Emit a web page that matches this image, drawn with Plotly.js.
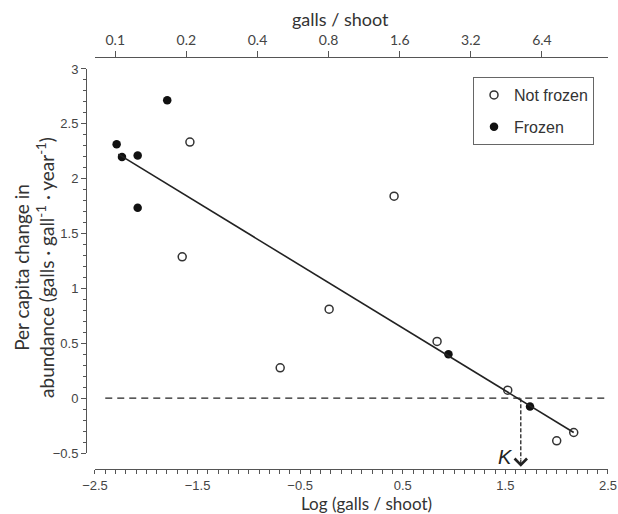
<!DOCTYPE html>
<html>
<head>
<meta charset="utf-8">
<script src="https://cdn.plot.ly/plotly-3.0.1.min.js"></script>
<style>
  html, body { margin: 0; padding: 0; background: #fff; }
  #chart { width: 618px; height: 514px; }
</style>
</head>
<body>
<div id="chart"></div>
<script>
// ---- data ----
const notFrozenX = [-1.575, -1.650, -0.695, -0.218, 0.415, 0.834, 1.523, 2.000, 2.166];
const notFrozenY = [2.334, 1.288, 0.276, 0.811, 1.841, 0.517, 0.073, -0.389, -0.313];
const frozenX = [-2.289, -2.237, -2.084, -2.084, -1.796, 0.945, 1.740];
const frozenY = [2.313, 2.197, 2.212, 1.735, 2.714, 0.401, -0.076];
const fitX = [-2.273, 2.166];
const fitY = [2.224, -0.313];
const zeroLineX = [-2.40, 2.54];
const zeroLineY = [0, 0];
const kValue = 1.65;
const kArrowY = [0, -0.56];
const kHeadY = -0.625;
const topGalls = [0.1, 0.2, 0.4, 0.8, 1.6, 3.2, 6.4];
const topTickLabels = ['0.1', '0.2', '0.4', '0.8', '1.6', '3.2', '6.4'];
const X_RANGE = [-2.5, 2.5];
const Y_RANGE = [-0.5, 3];

// ---- layout geometry ----
const xDom = [0.01724, 1];
const yDom = [0.0388, 0.9709];
const perUnit = (yDom[1] - yDom[0]) / (Y_RANGE[1] - Y_RANGE[0]);
const y3Range = [Y_RANGE[0] - yDom[0] / perUnit, Y_RANGE[1] + (1 - yDom[1]) / perUnit];

const axisColor = '#555';
const textColor = '#444';
const tickFont = {family: 'Liberation Sans, Arial, sans-serif', size: 13, color: textColor};
const titleFont = {family: 'Lato, sans-serif', size: 18, color: '#333'};

const traces = [
  {x: notFrozenX, y: notFrozenY, mode: 'markers', name: 'Not frozen', type: 'scatter',
   marker: {symbol: 'circle-open', size: 8, color: '#333', line: {width: 1.5, color: '#333'}},
   legendgroup: 'a', cliponaxis: false},
  {x: frozenX, y: frozenY, mode: 'markers', name: 'Frozen', type: 'scatter',
   marker: {symbol: 'circle', size: 8.5, color: '#111'},
   legendgroup: 'b', cliponaxis: false},
  {x: fitX, y: fitY, mode: 'lines', line: {color: '#222', width: 1.6}, showlegend: false, hoverinfo: 'skip'},
  {x: zeroLineX, y: zeroLineY, mode: 'lines', line: {color: '#222', width: 1.4, dash: '7px,5px'}, showlegend: false, hoverinfo: 'skip',
   xaxis: 'x3', yaxis: 'y3'},
  {x: [kValue, kValue], y: kArrowY, mode: 'lines', line: {color: '#222', width: 1.3, dash: '4px,2px'}, showlegend: false, hoverinfo: 'skip',
   xaxis: 'x3', yaxis: 'y3'},
  {x: [X_RANGE[0]], y: [Y_RANGE[0]], xaxis: 'x2', mode: 'markers', marker: {opacity: 0}, showlegend: false, hoverinfo: 'skip'}
];

const layout = {
  width: 618, height: 514,
  margin: {l: 86, r: 10, t: 57, b: 45},
  paper_bgcolor: '#fff', plot_bgcolor: 'rgba(0,0,0,0)',
  showlegend: true,
  legend: {x: 0.7414, y: 0.9515, xanchor: 'left', yanchor: 'top',
    bgcolor: '#fff', bordercolor: '#666', borderwidth: 1,
    font: {family: 'Liberation Sans, Arial, sans-serif', size: 16, color: '#333'},
    traceorder: 'grouped', tracegroupgap: 8},
  xaxis: {domain: xDom, range: X_RANGE, anchor: 'free', position: 0,
    showgrid: false, zeroline: false, showline: true, linecolor: axisColor, linewidth: 1.3,
    tickmode: 'linear', tick0: 0.5, dtick: 1, ticks: 'outside', ticklen: 4, tickcolor: axisColor, tickwidth: 1,
    minor: {dtick: 0.1, ticks: 'outside', ticklen: 4, tickcolor: axisColor, tickwidth: 1},
    tickfont: tickFont},
  xaxis2: {overlaying: 'x', side: 'top', anchor: 'free', position: 1, range: X_RANGE,
    showgrid: false, zeroline: false, showline: true, linecolor: axisColor, linewidth: 1.3,
    tickmode: 'array', tickvals: topGalls.map(Math.log), ticktext: topTickLabels,
    ticks: 'outside', ticklen: 6, tickcolor: axisColor, tickwidth: 1,
    tickfont: {family: 'Lato, sans-serif', size: 14, color: textColor}},
  yaxis: {domain: yDom, range: Y_RANGE, anchor: 'free', position: 0,
    showgrid: false, zeroline: false, showline: true, linecolor: axisColor, linewidth: 1.3,
    tickmode: 'linear', tick0: 0, dtick: 0.5, ticks: 'outside', ticklen: 5, tickcolor: axisColor, tickwidth: 1,
    minor: {dtick: 0.1, ticks: 'outside', ticklen: 3, tickcolor: axisColor, tickwidth: 1},
    tickfont: tickFont},
  xaxis3: {domain: xDom, range: X_RANGE, anchor: 'y3', visible: false, fixedrange: true},
  yaxis3: {domain: [0, 1], range: y3Range, anchor: 'x3', visible: false, fixedrange: true},
  annotations: [
    {xref: 'paper', yref: 'paper', x: 0.487, y: 1.092, text: 'galls / shoot', showarrow: false,
     xanchor: 'center', yanchor: 'middle', font: titleFont},
    {xref: 'paper', yref: 'paper', x: 0.538, y: -0.0845, text: 'Log (galls / shoot)', showarrow: false,
     xanchor: 'center', yanchor: 'middle', font: {family: 'Lato, sans-serif', size: 17, color: '#333'}},
    {xref: 'paper', yref: 'paper', x: -0.0996, y: 0.488, textangle: -90,
     text: 'Per capita change in<br>abundance (galls · gall<sup>-1</sup> · year<sup>-1</sup>)',
     showarrow: false, xanchor: 'center', yanchor: 'middle', align: 'center',
     font: {family: 'Lato, sans-serif', size: 19, color: '#333'}},
    {xref: 'x3', yref: 'y3', x: 1.50, y: -0.535, text: '<i>K</i>', showarrow: false,
     xanchor: 'center', yanchor: 'middle', font: {family: 'Liberation Sans, Arial, sans-serif', size: 20, color: '#222'}},
    {xref: 'x3', yref: 'y3', axref: 'x3', ayref: 'y3', x: kValue, y: kHeadY, ax: kValue, ay: kArrowY[1],
     text: '', font: {size: 1}, borderpad: 0, showarrow: true, arrowhead: 4, arrowsize: 2, arrowwidth: 1.2, arrowcolor: '#222'}
  ]
};

Plotly.newPlot('chart', traces, layout, {displayModeBar: false, staticPlot: true});
</script>
</body>
</html>
